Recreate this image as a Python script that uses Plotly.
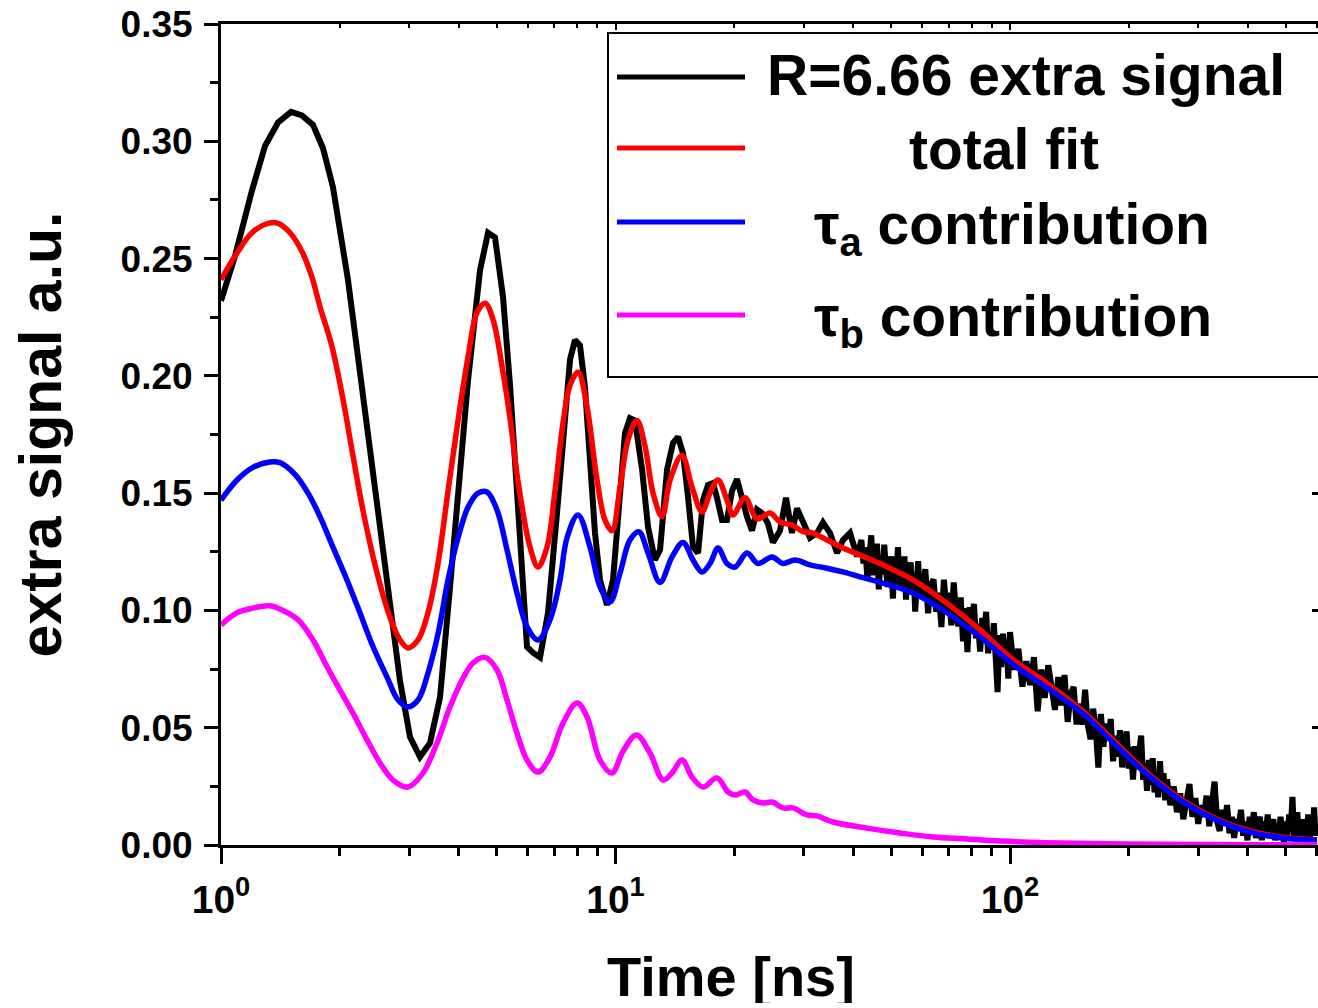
import plotly.graph_objects as go

# ---------------- data ----------------
# measured "extra signal" (black), time in ns
t_sig_early = [1.0, 1.085, 1.198, 1.293, 1.395, 1.505, 1.604, 1.711, 1.814, 1.922,
               2.098, 2.251, 2.415, 2.635, 2.843, 3.014, 3.195, 3.387, 3.591, 3.807,
               4.035, 4.228, 4.535, 4.752, 4.950, 5.187, 5.403, 5.628, 5.727, 5.966,
               6.179, 6.437, 6.745, 7.108, 7.447, 7.670, 7.894, 8.128, 8.369, 8.618,
               8.872, 9.137, 9.516, 9.855, 10.27, 10.57, 10.88, 11.20, 11.68, 12.09,
               12.59, 12.97, 13.51, 13.99, 14.41, 14.83, 15.27, 15.72, 16.19, 16.67,
               17.16, 17.66, 18.08, 18.62, 19.17, 19.74, 20.32, 20.93, 21.54, 22.18,
               22.84, 23.51, 24.35, 25.07, 26.12, 27.05, 28.01, 28.85, 29.87, 31.12,
               32.42, 33.57, 34.98, 36.44, 37.73, 39.31, 40.96]
v_sig_early = [0.232, 0.251, 0.279, 0.298, 0.308, 0.3125, 0.311, 0.307, 0.297, 0.2805,
               0.241, 0.201, 0.161, 0.113, 0.070, 0.046, 0.0375, 0.0435, 0.063, 0.110,
               0.156, 0.198, 0.245, 0.261, 0.259, 0.2336, 0.196, 0.156, 0.131, 0.0845,
               0.082, 0.080, 0.099, 0.1415, 0.182, 0.207, 0.2153, 0.213, 0.195, 0.164,
               0.133, 0.113, 0.1023, 0.113, 0.1526, 0.1756, 0.182, 0.181, 0.160, 0.1356,
               0.1215, 0.1258, 0.160, 0.1714, 0.174, 0.167, 0.1484, 0.127, 0.1245, 0.147,
               0.1535, 0.1543, 0.148, 0.1385, 0.1385, 0.151, 0.156, 0.147, 0.140, 0.134,
               0.143, 0.1415, 0.137, 0.129, 0.134, 0.148, 0.133, 0.1435, 0.137, 0.131,
               0.133, 0.1375, 0.133, 0.1245, 0.130, 0.133, 0.123]
t_sig_a = [42.0, 42.5, 43.0, 43.5, 44.0, 44.5, 45.0, 45.5, 46.0, 46.5, 47.0, 47.5,
           48.0, 48.5, 49.0, 49.5, 50.0, 50.5, 51.0, 51.5, 52.0, 52.5, 53.0, 53.5,
           54.0, 54.5, 55.0, 55.5, 56.0, 56.5, 57.0, 57.5, 58.0, 58.5, 59.0, 59.5]
v_sig_a = [0.130, 0.120, 0.127, 0.113, 0.124, 0.132, 0.115, 0.120, 0.1285, 0.109,
           0.123, 0.1155, 0.128, 0.117, 0.110, 0.123, 0.119, 0.105, 0.123, 0.114,
           0.127, 0.109, 0.1176, 0.110, 0.123, 0.1046, 0.118, 0.113, 0.1205, 0.107,
           0.116, 0.0995, 0.117, 0.121, 0.1074, 0.113]
t_sig_b = [60, 61, 62, 63, 64, 65, 66, 67, 68, 69, 70, 71, 72, 73, 74, 75, 76, 77, 78, 79,
           80, 81, 82, 83, 84, 85, 86, 87, 88, 89, 90, 91, 92, 93, 94, 95, 96, 97, 98, 99]
v_sig_b = [0.1064, 0.1176, 0.0988, 0.1110, 0.1132, 0.0994, 0.1076, 0.0929, 0.1131, 0.1003,
           0.1075, 0.0937, 0.1119, 0.0981, 0.0933, 0.1056, 0.0868, 0.1010, 0.0822, 0.1014,
           0.0916, 0.1028, 0.0881, 0.0943, 0.0825, 0.0968, 0.0881, 0.0994, 0.0817, 0.0910,
           0.0833, 0.0946, 0.0799, 0.0652, 0.0895, 0.0758, 0.0901, 0.0794, 0.0876, 0.0709]
t_sig_c = [100.0, 102.5, 105.0, 107.5, 110.0, 112.5, 115.0, 117.5, 120.0, 122.5,
           125.0, 127.5, 130.0, 132.5, 135.0, 137.5, 140.0, 142.5, 145.0, 147.5,
           150.0, 152.5, 155.0, 157.5, 160.0, 162.5, 165.0, 167.5, 170.0, 172.5,
           175.0, 177.5, 180.0, 182.5, 185.0, 187.5, 190.0, 192.5, 195.0, 197.5,
           200.0, 202.5, 205.0, 207.5, 210.0, 212.5, 215.0, 217.5, 220.0, 222.5,
           225.0, 227.5, 230.0, 232.5, 235.0, 237.5, 240.0, 242.5, 245.0, 247.5]
v_sig_c = [0.0908, 0.0747, 0.0836, 0.0675, 0.0783, 0.0682, 0.0801, 0.0570, 0.0748, 0.0627,
           0.0766, 0.0646, 0.0576, 0.0716, 0.0595, 0.0725, 0.0525, 0.0644, 0.0674, 0.0514,
           0.0603, 0.0513, 0.0662, 0.0512, 0.0451, 0.0581, 0.0490, 0.0330, 0.0559, 0.0419,
           0.0518, 0.0448, 0.0537, 0.0357, 0.0466, 0.0377, 0.0489, 0.0331, 0.0422, 0.0484,
           0.0326, 0.0418, 0.0279, 0.0421, 0.0323, 0.0395, 0.0466, 0.0278, 0.0350, 0.0231,
           0.0363, 0.0256, 0.0370, 0.0224, 0.0299, 0.0203, 0.0357, 0.0232, 0.0306, 0.0191]
t_sig_d = [250, 255, 260, 265, 270, 275, 280, 285, 290, 295,
           300, 305, 310, 315, 320, 325, 330, 335, 340, 345,
           350, 355, 360, 365, 370, 375, 380, 385, 390, 395,
           400, 405, 410, 415, 420, 425, 430, 435, 440, 445,
           450, 455, 460, 465, 470, 475, 480, 485, 490, 495,
           500, 505, 510, 515, 520, 525, 530, 535, 540, 545,
           550, 555, 560, 565, 570, 575, 580, 585, 590, 595, 600]
v_sig_d = [0.028, 0.017, 0.025, 0.014, 0.022, 0.011, 0.019, 0.026, 0.012, 0.020,
           0.009, 0.017, 0.012, 0.021, 0.008, 0.016, 0.027, 0.010, 0.006, 0.015,
           0.009, 0.017, 0.005, 0.012, 0.003, 0.011, 0.008, 0.015, 0.004, 0.010,
           0.002, 0.012, 0.007, 0.014, 0.003, 0.009, 0.012, 0.002, 0.010, 0.005,
           0.013, 0.003, 0.008, 0.011, 0.002, 0.009, 0.004, 0.012, 0.006, 0.001,
           0.010, 0.004, 0.013, 0.007, 0.0205, 0.003, 0.009, 0.014, 0.002, 0.008,
           0.011, 0.003, 0.009, 0.005, 0.013, 0.002, 0.010, 0.006, 0.016, 0.004, 0.009]

# total fit (red)
t_fit = [1.0, 1.098, 1.198, 1.315, 1.395, 1.496, 1.604, 1.701, 1.782, 1.911, 2.038, 2.160,
         2.291, 2.486, 2.682, 2.843, 2.979, 3.158, 3.347, 3.549, 3.763, 3.989, 4.228, 4.456,
         4.670, 4.893, 5.157, 5.403, 5.661, 6.072, 6.362, 6.706, 7.025, 7.362, 7.670, 8.036,
         8.470, 8.978, 9.406, 9.797, 10.27, 10.76, 11.34, 11.88, 12.45, 13.12, 13.75, 14.74,
         15.63, 16.57, 17.36, 18.19, 19.17, 19.86, 21.30, 22.84, 24.64, 26.12, 28.01, 29.87,
         31.67, 34.37, 37.73, 41.68, 46.83, 56.77, 69.24, 83.95, 101.8, 124.1, 153.1, 186.7,
         226.4, 274.5, 334.7, 405.9, 492.0, 600.0]
v_fit = [0.241, 0.2524, 0.261, 0.265, 0.265, 0.261, 0.253, 0.242, 0.2295, 0.2125, 0.190, 0.166,
         0.1425, 0.116, 0.097, 0.0874, 0.084, 0.0874, 0.099, 0.120, 0.151, 0.181, 0.208, 0.227,
         0.231, 0.224, 0.204, 0.182, 0.155, 0.127, 0.1185, 0.127, 0.151, 0.180, 0.196, 0.2016,
         0.1867, 0.1556, 0.1385, 0.134, 0.1526, 0.1727, 0.181, 0.170, 0.150, 0.140, 0.1556, 0.166,
         0.1526, 0.142, 0.150, 0.1556, 0.147, 0.1407, 0.148, 0.139, 0.1415, 0.1377, 0.1364, 0.1336,
         0.133, 0.130, 0.1266, 0.1236, 0.120, 0.113, 0.103, 0.0917, 0.079, 0.069, 0.057, 0.043,
         0.0298, 0.019, 0.011, 0.006, 0.0033, 0.0022]

# tau_a contribution (blue)
t_a = [1.0, 1.098, 1.205, 1.331, 1.411, 1.540, 1.662, 1.782, 1.922, 2.086, 2.251, 2.429,
       2.635, 2.810, 2.979, 3.158, 3.347, 3.549, 3.763, 3.989, 4.228, 4.482, 4.725, 5.008,
       5.309, 5.628, 5.966, 6.362, 6.823, 7.234, 7.536, 8.036, 8.618, 9.137, 9.685, 10.27,
       10.88, 11.47, 12.09, 12.97, 13.91, 14.83, 15.72, 16.57, 17.36, 18.19, 19.17, 20.09,
       21.54, 22.97, 24.93, 26.58, 28.51, 31.12, 34.37, 37.73, 41.68, 46.83, 56.77, 69.24,
       83.95, 101.8, 124.1, 153.1, 186.7, 226.4, 274.5, 334.7, 405.9, 492.0, 600.0]
v_a = [0.147, 0.1556, 0.161, 0.1633, 0.163, 0.158, 0.150, 0.140, 0.127, 0.113, 0.0989, 0.0845,
       0.0716, 0.0618, 0.0589, 0.0618, 0.0733, 0.090, 0.113, 0.131, 0.144, 0.150, 0.1505, 0.1428,
       0.1258, 0.1074, 0.093, 0.0874, 0.096, 0.113, 0.131, 0.1407, 0.127, 0.110, 0.1036, 0.116,
       0.130, 0.1335, 0.1245, 0.112, 0.1228, 0.129, 0.1215, 0.1164, 0.120, 0.1266, 0.120, 0.1185,
       0.1245, 0.120, 0.1228, 0.120, 0.1215, 0.1194, 0.118, 0.1164, 0.1143, 0.112, 0.1074, 0.099,
       0.0887, 0.077, 0.067, 0.056, 0.042, 0.029, 0.0183, 0.0105, 0.0055, 0.003, 0.002]

# tau_b contribution (magenta)
t_b = [1.0, 1.098, 1.205, 1.331, 1.436, 1.568, 1.711, 1.857, 2.003, 2.160, 2.345, 2.529,
       2.729, 2.979, 3.251, 3.528, 3.807, 4.083, 4.353, 4.670, 5.008, 5.309, 5.628, 5.966,
       6.362, 6.823, 7.362, 7.989, 8.470, 9.137, 9.797, 10.45, 11.30, 12.23, 13.20, 13.91,
       14.74, 15.63, 16.67, 18.08, 19.29, 20.09, 21.30, 22.31, 23.65, 24.93, 26.58, 28.18,
       30.58, 32.42, 35.59, 43.40, 52.62, 63.81, 77.80, 94.35, 150.0, 250.0, 400.0, 600.0]
v_b = [0.0938, 0.099, 0.101, 0.102, 0.100, 0.096, 0.0874, 0.076, 0.066, 0.0562, 0.0448, 0.035,
       0.0277, 0.0247, 0.0307, 0.0435, 0.0589, 0.0703, 0.0776, 0.080, 0.0746, 0.0618, 0.0477, 0.0362,
       0.0311, 0.0375, 0.052, 0.0605, 0.0546, 0.0362, 0.0307, 0.040, 0.0469, 0.0392, 0.0277, 0.0307,
       0.0362, 0.029, 0.0247, 0.0286, 0.0226, 0.0213, 0.0226, 0.0192, 0.0179, 0.0183, 0.0158, 0.0158,
       0.0128, 0.0124, 0.0098, 0.0072, 0.0051, 0.0034, 0.0026, 0.0017, 0.0007, 0.0003, 0.0001, 0.0]

series_names = ["R=6.66 extra signal", "total fit", "\u03c4<sub>a</sub>\u00a0contribution",
                "\u03c4<sub>b</sub>\u00a0contribution"]
series_colors = ["#000000", "#ff0000", "#0000ff", "#ff00ff"]

x_tick_vals = [1, 10, 100]
x_tick_text = ["10<sup>0</sup>", "10<sup>1</sup>", "10<sup>2</sup>"]
x_minor_vals = [2, 3, 4, 5, 6, 7, 8, 9, 20, 30, 40, 50, 60, 70, 80, 90, 200, 300, 400, 500, 600]

# ---------------- figure geometry ----------------
FONT = "Liberation Sans, Arial, Helvetica, sans-serif"
W, H = 1318, 1008
ML, MR, MT, MB = 221, 0, 24, 163
PW, PH = W - ML - MR, H - MT - MB


def px(x):   # page pixel -> paper x
    return (x - ML) / PW


def py(y):   # page pixel -> paper y
    return (H - MB - y) / PH


t_sig = t_sig_early + t_sig_a + t_sig_b + t_sig_c + t_sig_d
v_sig = v_sig_early + v_sig_a + v_sig_b + v_sig_c + v_sig_d

fig = go.Figure()
fig.add_trace(go.Scatter(x=t_sig, y=v_sig, mode="lines", name="R=6.66 extra signal",
                         line=dict(color=series_colors[0], width=6)))
fig.add_trace(go.Scatter(x=t_fit, y=v_fit, mode="lines", name="total fit",
                         line=dict(color=series_colors[1], width=5.5, shape="spline", smoothing=1)))
fig.add_trace(go.Scatter(x=t_a, y=v_a, mode="lines", name="\u03c4a contribution",
                         line=dict(color=series_colors[2], width=5.5, shape="spline", smoothing=1)))
fig.add_trace(go.Scatter(x=t_b, y=v_b, mode="lines", name="\u03c4b contribution",
                         line=dict(color=series_colors[3], width=5.5, shape="spline", smoothing=1)))
# invisible helper so the mirrored top/right axes are drawn
fig.add_trace(go.Scatter(x=[1], y=[0], xaxis="x2", yaxis="y2", mode="markers",
                         marker=dict(opacity=0), hoverinfo="skip", showlegend=False))

xr = [0, (W - ML) / 394.5]

fig.update_layout(
    width=W, height=H,
    margin=dict(l=ML, r=MR, t=MT, b=MB, autoexpand=False),
    paper_bgcolor="white", plot_bgcolor="white",
    showlegend=False,
    font=dict(family=FONT, color="black", size=37, weight="bold"),
    xaxis=dict(
        type="log", range=xr, tickmode="array", tickvals=x_tick_vals, ticktext=x_tick_text,
        ticks="outside", ticklen=16, tickwidth=3, tickcolor="black",
        showline=True, linewidth=3, linecolor="black", showgrid=False, zeroline=False,
        minor=dict(tickmode="array", tickvals=x_minor_vals, ticks="outside", ticklen=8,
                   tickwidth=3, tickcolor="black", showgrid=False),
        tickfont=dict(size=39, family=FONT, weight="bold"),
        ticklabelstandoff=2, ticklabeloverflow="allow",
        layer="below traces",
    ),
    yaxis=dict(
        range=[0, 0.35], tick0=0, dtick=0.05, tickformat=".2f",
        ticks="outside", ticklen=14, tickwidth=3, tickcolor="black",
        showline=True, linewidth=3, linecolor="black", showgrid=False, zeroline=False,
        minor=dict(dtick=0.025, tick0=0, ticks="outside", ticklen=8, tickwidth=3,
                   tickcolor="black", showgrid=False),
        tickfont=dict(size=37, family=FONT, weight="bold"),
        ticklabelstandoff=4, ticklabeloverflow="allow",
        title=dict(text="extra signal a.u.", font=dict(size=59, family=FONT, weight="bold"), standoff=40),
        layer="below traces",
    ),
    xaxis2=dict(
        type="log", range=xr, overlaying="x", side="top", anchor="y",
        tickmode="array", tickvals=x_tick_vals, showticklabels=False,
        ticks="inside", ticklen=6, tickwidth=2, tickcolor="black",
        showline=True, linewidth=3, linecolor="black", showgrid=False, zeroline=False,
        minor=dict(tickmode="array", tickvals=x_minor_vals, ticks="inside", ticklen=4,
                   tickwidth=2, tickcolor="black", showgrid=False),
    ),
    yaxis2=dict(
        range=[0, 0.35], overlaying="y", side="right", anchor="x",
        tick0=0, dtick=0.05, showticklabels=False,
        ticks="inside", ticklen=6, tickwidth=3, tickcolor="black",
        showline=False, showgrid=False, zeroline=False,
    ),
)

# x-axis title (placed where the original has it)
fig.add_annotation(x=px(731), y=py(976), xref="paper", yref="paper", text="Time [ns]",
                   showarrow=False, xanchor="center", yanchor="middle", height=54,
                   font=dict(size=56, family=FONT, color="black", weight="bold"))

# ---------------- legend box (drawn like the original) ----------------
shapes = [dict(type="rect", xref="paper", yref="paper",
               x0=px(608), x1=px(1330), y0=py(377), y1=py(33),
               line=dict(color="black", width=2), fillcolor="white", layer="above")]
row_y = [77, 148, 222, 315]
for c, yy in zip(series_colors, row_y):
    shapes.append(dict(type="line", xref="paper", yref="paper",
                       x0=px(617), x1=px(745), y0=py(yy), y1=py(yy),
                       line=dict(color=c, width=5), layer="above"))
fig.update_layout(shapes=shapes)

text_pos = [(765, 75), (907, 149), (812, 228), (812, 320)]
for name, (tx, ty) in zip(series_names, text_pos):
    fig.add_annotation(x=px(tx), y=py(ty), xref="paper", yref="paper",
                       text=name, showarrow=False, xanchor="left", yanchor="middle",
                       font=dict(size=57, family=FONT, color="black", weight="bold"))

# the page's default 8px body margin would push the fixed-size figure off the window
fig.write_html("out.html", config={"displayModeBar": False},
               post_script="document.body.style.margin='0';document.body.style.overflow='hidden';")
